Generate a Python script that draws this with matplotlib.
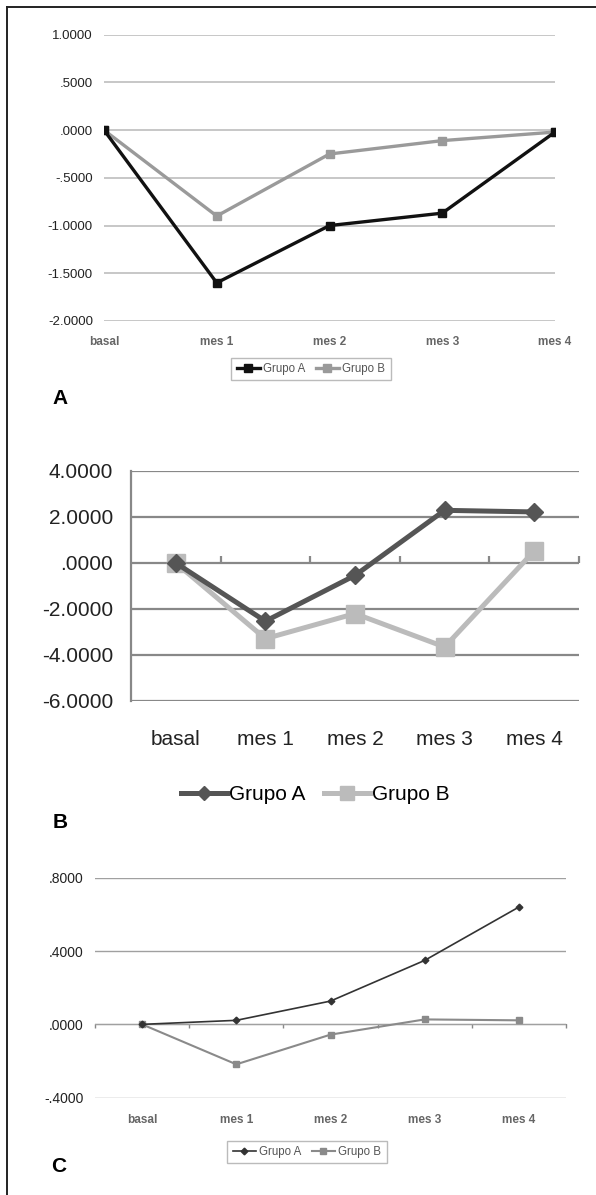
import matplotlib
matplotlib.use("Agg")
import matplotlib.pyplot as plt
from matplotlib.lines import Line2D

plt.rcParams['font.family'] = ['Liberation Sans', 'DejaVu Sans']

categories = ["basal", "mes 1", "mes 2", "mes 3", "mes 4"]
series_names = ["Grupo A", "Grupo B"]

# panel A
a_grupo_a = [0.0, -1.60, -1.00, -0.87, -0.02]
a_grupo_b = [0.0, -0.90, -0.25, -0.11, -0.02]
a_ticks = [1.0, 0.5, 0.0, -0.5, -1.0, -1.5, -2.0]
a_ticklabels = ["1.0000", ".5000", ".0000", "-.5000", "-1.0000", "-1.5000", "-2.0000"]

# panel B
b_grupo_a = [0.0, -2.53, -0.54, 2.29, 2.22]
b_grupo_b = [0.0, -3.29, -2.20, -3.65, 0.52]
b_ticks = [4, 2, 0, -2, -4, -6]
b_ticklabels = ["4.0000", "2.0000", ".0000", "-2.0000", "-4.0000", "-6.0000"]

# panel C
c_grupo_a = [0.0, 0.022, 0.127, 0.349, 0.64]
c_grupo_b = [0.0, -0.218, -0.056, 0.027, 0.022]
c_ticks = [0.8, 0.4, 0.0, -0.4]
c_ticklabels = [".8000", ".4000", ".0000", "-.4000"]

W, H = 596, 1195
fig = plt.figure(figsize=(W / 100, H / 100), dpi=100)


def box(x0, y0, x1, y1):
    # pixel box (top-left origin) -> figure fraction rect
    return [x0 / W, 1 - y1 / H, (x1 - x0) / W, (y1 - y0) / H]


x = list(range(len(categories)))

# ---------------- A ----------------
ax = fig.add_axes(box(104, 34.7, 555, 321))
ax.plot(x, a_grupo_a, color='#111111', lw=2.4, marker='s', ms=5.5, label=series_names[0], zorder=4)
ax.plot(x, a_grupo_b, color='#9a9a9a', lw=2.4, marker='s', ms=6, label=series_names[1], zorder=3)
ax.set_xlim(0, 4)
ax.set_ylim(-2, 1)
ax.set_yticks(a_ticks, a_ticklabels)
ax.set_xticks(x, categories)
ax.grid(axis='y', color='#b8b8b8', lw=1.1)
ax.set_axisbelow(True)
for s in ax.spines.values():
    s.set_visible(False)
ax.tick_params(length=0)
ax.tick_params(axis='y', labelsize=9.5, labelcolor='#222222', pad=8)
ax.tick_params(axis='x', labelsize=8.5, labelcolor='#666666', pad=11)
for t in ax.get_xticklabels():
    t.set_fontweight('bold')
fig.legend(loc='center', bbox_to_anchor=(311 / W, 1 - 369 / H), ncol=2, fontsize=8.3,
           frameon=True, fancybox=False, edgecolor='#aaaaaa', handlelength=2.0,
           columnspacing=0.9, handletextpad=0.3, borderpad=0.45, borderaxespad=0,
           labelcolor='#555555', handles=ax.get_lines())
fig.text(60 / W, 1 - 398 / H, "A", fontsize=15, fontweight='bold', ha='center', va='center')

# ---------------- B ----------------
ax = fig.add_axes(box(131, 471, 579, 701))
ax.plot(x, b_grupo_a, color='#555555', lw=3.6, marker='D', ms=9, label=series_names[0], zorder=4)
ax.plot(x, b_grupo_b, color='#bbbbbb', lw=3.6, marker='s', ms=13, label=series_names[1], zorder=3)
ax.set_xlim(-0.5, 4.5)
ax.set_ylim(-6, 4)
ax.set_yticks(b_ticks, b_ticklabels)
ax.set_xticks(x, categories)
ax.grid(axis='y', color='#888888', lw=1.6)
ax.set_axisbelow(True)
for k in ['top', 'right', 'bottom']:
    ax.spines[k].set_visible(False)
ax.spines['left'].set_color('#888888')
ax.spines['left'].set_linewidth(1.6)
ax.tick_params(length=0)
ax.tick_params(axis='y', labelsize=15, labelcolor='#222222', pad=13)
ax.tick_params(axis='x', labelsize=15, labelcolor='#222222', pad=21)
sec = ax.secondary_xaxis(0.6)
sec.set_xticks([i + 0.5 for i in x], [])
sec.spines['top'].set_visible(False)
sec.spines['bottom'].set_visible(False)
sec.tick_params(length=5, width=1.6, color='#888888', direction='out')
ax.legend(loc='center', bbox_to_anchor=(315 / W, 1 - 795 / H), bbox_transform=fig.transFigure,
          ncol=2, fontsize=15, frameon=False, handlelength=2.2, columnspacing=0.9,
          handletextpad=0.1, markerscale=0.75)
fig.text(60 / W, 1 - 822 / H, "B", fontsize=15, fontweight='bold', ha='center', va='center')

# ---------------- C ----------------
ax = fig.add_axes(box(95, 877.7, 566, 1097.7))
ax.plot(x, c_grupo_a, color='#333333', lw=1.2, marker='D', ms=3.4, label=series_names[0], zorder=4)
ax.plot(x, c_grupo_b, color='#8a8a8a', lw=1.5, marker='s', ms=4.8, label=series_names[1], zorder=3)
ax.set_xlim(-0.5, 4.5)
ax.set_ylim(-0.4, 0.8)
ax.set_yticks(c_ticks, c_ticklabels)
ax.set_xticks(x, categories)
ax.grid(axis='y', color='#a0a0a0', lw=1.0)
ax.set_axisbelow(True)
for s in ax.spines.values():
    s.set_visible(False)
ax.tick_params(length=0)
ax.tick_params(axis='y', labelsize=10, labelcolor='#222222', pad=8)
ax.tick_params(axis='x', labelsize=8.5, labelcolor='#666666', pad=12)
for t in ax.get_xticklabels():
    t.set_fontweight('bold')
sec = ax.secondary_xaxis(1 / 3)
sec.set_xticks([i - 0.5 for i in range(len(categories) + 1)], [])
sec.spines['top'].set_visible(False)
sec.spines['bottom'].set_visible(True)
sec.spines['bottom'].set_color('#888888')
sec.tick_params(length=3, width=1.0, color='#888888', direction='out')
fig.legend(loc='center', bbox_to_anchor=(307 / W, 1 - 1152 / H), ncol=2, fontsize=8.3,
           frameon=True, fancybox=False, edgecolor='#aaaaaa', handlelength=2.0,
           columnspacing=0.9, handletextpad=0.3, borderpad=0.45, borderaxespad=0,
           labelcolor='#555555', handles=ax.get_lines())
fig.text(59 / W, 1 - 1167 / H, "C", fontsize=15, fontweight='bold', ha='center', va='center')

# frame (top and left edges only, as cropped in the original)
fig.add_artist(Line2D([7 / W, 7 / W], [0, 1 - 7 / H], color='#222222', lw=1.4))
fig.add_artist(Line2D([7 / W, 1], [1 - 7 / H, 1 - 7 / H], color='#222222', lw=1.4))

fig.savefig('out.png', dpi=100)
